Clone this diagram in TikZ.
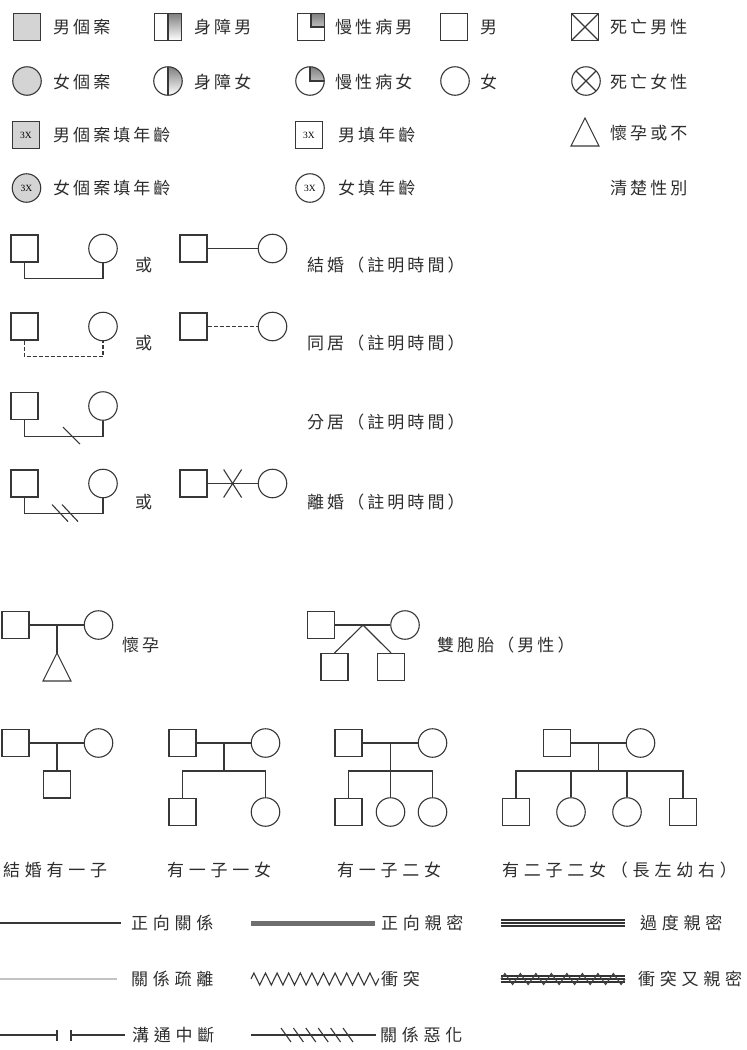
\documentclass[tikz,border=0pt]{standalone}
\usepackage{fontspec}
\newfontfamily\zh{Noto Sans CJK TC}[LetterSpace=18]
\newfontfamily\zhw{Noto Sans CJK TC}[LetterSpace=28]
\newfontfamily\tms{Liberation Serif}
\usetikzlibrary{calc,decorations.pathmorphing}
\definecolor{ink}{RGB}{55,55,55}
\definecolor{shade}{RGB}{212,212,212}
\definecolor{mid}{RGB}{110,110,110}
\definecolor{pale}{RGB}{195,195,195}
\definecolor{txt}{RGB}{45,45,45}
\tikzset{
  tie/.style={draw=ink,line width=1.1pt},
  coh/.style={dash pattern=on 4pt off 2pt},
  sym/.style={tie,fill=white,inner sep=0pt,minimum size=27pt,
    font=\tms\fontsize{9.5}{9.5}\selectfont},
  male/.style={sym,rectangle},
  female/.style={sym,circle,minimum size=28.5pt},
  index/.style={fill=shade},
  disab/.style={path picture={
    \fill[shade] (path picture bounding box.south) rectangle (path picture bounding box.north east);
    \draw[tie] (path picture bounding box.south) -- (path picture bounding box.north);}},
  chron/.style={path picture={
    \fill[shade] (path picture bounding box.center) rectangle (path picture bounding box.north east);
    \draw[tie] (path picture bounding box.north) -- (path picture bounding box.center) -- (path picture bounding box.east);}},
  dead/.style={path picture={
    \draw[tie] (path picture bounding box.north west) -- (path picture bounding box.south east)
      (path picture bounding box.north east) -- (path picture bounding box.south west);}},
  lbl/.style={anchor=west,inner sep=0pt,text=txt,font=\zh\fontsize{17}{17}\selectfont},
  lblw/.style={lbl,font=\zhw\fontsize{17}{17}\selectfont},
  % pictograms
  pics/fetus/.style={code={
    \draw[tie] (-14,14) -- (0,-14) -- (14,14) -- cycle;
    \coordinate (-top) at (0,-14);
  }},
}
\begin{document}
\begin{tikzpicture}[x=1pt,y=-1pt]
\path[use as bounding box] (0,0) rectangle (747,1050);
% symbols
\node[male,index] (ma) at (27,27) {};        \node[lbl] (ma-t) at (53,27) {男個案};
\node[male,disab] (mb) at (168,27) {};       \node[lbl] (mb-t) at (194,27) {身障男};
\node[male,chron] (mc) at (311,27) {};       \node[lbl] (mc-t) at (335,27) {慢性病男};
\node[male] (md) at (454,27) {};             \node[lbl] (md-t) at (480,27) {男};
\node[male,dead] (me) at (585,27) {};        \node[lbl] (me-t) at (610,27) {死亡男性};
\node[female,index] (fa) at (27,81) {};      \node[lbl] (fa-t) at (53,82) {女個案};
\node[female,disab] (fb) at (168,81) {};     \node[lbl] (fb-t) at (194,82) {身障女};
\node[female,chron] (fc) at (310,81) {};     \node[lbl] (fc-t) at (335,82) {慢性病女};
\node[female] (fd) at (455,81) {};           \node[lbl] (fd-t) at (480,82) {女};
\node[female,dead] (fe) at (586,81) {};      \node[lbl] (fe-t) at (610,82) {死亡女性};
\node[male,index] (mx) at (26,135) {3X};     \node[lbl] (mx-t) at (53,135) {男個案填年齡};
\node[male] (my) at (309,135) {3X};          \node[lbl] (my-t) at (338,135) {男填年齡};
\pic (u) at (585,132) {fetus};               \node[lbl] (u-t) at (610,133) {懷孕或不};
\node[female,index] (fx) at (26.5,188) {3X}; \node[lbl] (fx-t) at (53,188) {女個案填年齡};
\node[female] (fy) at (310,188) {3X};        \node[lbl] (fy-t) at (338,188) {女填年齡};
\node[lbl] (u-t2) at (610,188) {清楚性別};

% couples
\node[male] (m1) at (24.5,248.5) {};  \node[female] (f1) at (103,248.5) {};
\draw[tie] (m1.south) -- ++(0,16) -| (f1.south);
\node[lbl] (or1) at (135,265) {或};
\node[male] (m2) at (193.5,248.5) {}; \node[female] (f2) at (272.5,248.5) {};
\draw[tie] (m2) -- (f2);
\node[lbl] (c1-t) at (307,265) {結婚（註明時間）};

\node[male] (m3) at (24.5,326.5) {};  \node[female] (f3) at (103,326.5) {};
\draw[tie,coh] (m3.south) -- ++(0,16) -| (f3.south);
\node[lbl] (or2) at (135,343) {或};
\node[male] (m4) at (193.5,326.5) {}; \node[female] (f4) at (272.5,326.5) {};
\draw[tie,coh] (m4) -- (f4);
\node[lbl] (c2-t) at (307,343) {同居（註明時間）};

\node[male] (m5) at (24.5,406) {};    \node[female] (f5) at (103,406) {};
\draw[tie] (m5.south) -- ++(0,16) coordinate (k5) -| (f5.south);
\draw[tie] (k5) ++(38.5,-9) -- ++(17,17);
\node[lbl] (c3-t) at (307,422) {分居（註明時間）};

\node[male] (m7) at (24.5,483.5) {};  \node[female] (f7) at (103,483.5) {};
\draw[tie] (m7.south) -- ++(0,16) coordinate (k7) -| (f7.south);
\draw[tie] (k7) ++(27.5,-9) -- ++(16,17) ++(-6,-17) -- ++(16,17);
\node[lbl] (or3) at (135,502) {或};
\node[male] (m8) at (193.5,483.5) {}; \node[female] (f8) at (272.5,483.5) {};
\draw[tie] (m8) -- (f8);
\coordinate (x8) at ($(m8.east)!0.5!(f8.west)$);
\draw[tie] ($(x8)+(-9,-14)$) -- ($(x8)+(9,14)$) ($(x8)+(9,-14)$) -- ($(x8)+(-9,14)$);
\node[lbl] (c4-t) at (307,502) {離婚（註明時間）};

% pregnancy and twins
\node[male] (pm) at (15.5,625) {};  \node[female] (pf) at (98.5,625) {};
\draw[tie] (pm) -- (pf);
\pic (ft) at (57,667) {fetus};
\draw[tie] (ft-top |- pm) -- (ft-top);
\node[lbl] (pm-t) at (122,645) {懷孕};

\node[male] (tm) at (321,625) {};   \node[female] (tf) at (405,625) {};
\draw[tie] (tm) -- (tf);
\coordinate (tw) at ($(tm)!0.5!(tf)$);
\node[male] (t1) at (334.5,667) {}; \node[male] (t2) at (391,667) {};
\draw[tie] (t1.north) -- (tw) -- (t2.north);
\node[lbl] (tm-t) at (437,645) {雙胞胎（男性）};

% families
\node[male] (p1m) at (15.5,743) {};  \node[female] (p1f) at (98.5,743) {};
\draw[tie] (p1m) -- (p1f);
\node[male] (p1a) at (57,784.5) {};
\draw[tie] (p1a.north |- p1m) -- (p1a.north);
\node[lblw] (p1-t) at (3,870) {結婚有一子};

\node[male] (p2m) at (182.5,743) {}; \node[female] (p2f) at (265.5,743) {};
\draw[tie] (p2m) -- (p2f);
\coordinate (s2) at ($(p2m)!0.5!(p2f)+(0,28)$);
\draw[tie] ($(p2m)!0.5!(p2f)$) -- (s2);
\node[male] (p2a) at (182.5,812) {}; \node[female] (p2b) at (265.5,812) {};
\draw[tie] (p2a.north) |- (s2) -| (p2b.north);
\node[lblw] (p2-t) at (167,870) {有一子一女};

\node[male] (p3m) at (348.5,743) {}; \node[female] (p3f) at (432.5,743) {};
\draw[tie] (p3m) -- (p3f);
\coordinate (s3) at ($(p3m)!0.5!(p3f)+(0,28)$);
\draw[tie] ($(p3m)!0.5!(p3f)$) -- (s3);
\node[male] (p3a) at (348.5,812) {}; \node[female] (p3b) at (390.5,812) {};
\node[female] (p3c) at (432.5,812) {};
\draw[tie] (p3a.north) |- (s3) -| (p3c.north);
\draw[tie] (p3b.north) -- (p3b.north |- s3);
\node[lblw] (p3-t) at (337,870) {有一子二女};

\node[male] (p4m) at (557,743) {};   \node[female] (p4f) at (640.5,743) {};
\draw[tie] (p4m) -- (p4f);
\coordinate (s4) at ($(p4m)!0.5!(p4f)+(0,28)$);
\draw[tie] ($(p4m)!0.5!(p4f)$) -- (s4);
\node[male] (p4a) at (516,812) {};   \node[female] (p4b) at (571,812) {};
\node[female] (p4c) at (627,812) {}; \node[male] (p4d) at (683,812) {};
\draw[tie] (p4a.north) |- (s4) -| (p4d.north);
\foreach \c in {p4b,p4c} \draw[tie] (\c.north) -- (\c.north |- s4);
\node[lblw] (p4-t) at (502,870) {有二子二女（長左幼右）};

% relationship lines
\node[lblw] (r1) at (131,923) {正向關係};  \coordinate (r1s) at (0,923);
\draw[tie,shorten >=10pt] (r1s) -- (r1);
\node[lblw] (r2) at (381,923) {正向親密};  \coordinate (r2s) at (251,923);
\draw[mid,line width=5pt,shorten >=6pt] (r2s) -- (r2);
\node[lblw] (r3) at (640,923) {過度親密};  \coordinate (r3s) at (501,923);
\foreach \d in {-3.4,0,3.4}
  \draw[black!80,line width=2.1pt] ($(r3s)+(0,\d)$) -- ($(r3.west)+(-15,\d)$);

\node[lblw] (r4) at (131,979) {關係疏離};  \coordinate (r4s) at (0,979);
\draw[pale,line width=2.5pt,shorten >=14pt] (r4s) -- (r4);
\node[lblw] (r5) at (381,979) {衝突};      \coordinate (r5s) at (251,979);
\draw[tie,decorate,decoration={zigzag,amplitude=6pt,segment length=11.6pt}] (r5s) -- ($(r5.west)+(-2,0)$);
\node[lblw] (r6) at (638,979) {衝突又親密}; \coordinate (r6s) at (501,979);
\foreach \d in {-3.4,0,3.4}
  \draw[black!80,line width=1.9pt] ($(r6s)+(0,\d)$) -- ($(r6.west)+(-13,\d)$);
\draw[black!75,line width=1.1pt,decorate,decoration={zigzag,amplitude=5.5pt,segment length=15.5pt}] (r6s) -- ($(r6.west)+(-13,0)$);

\node[lblw] (r7) at (132,1035) {溝通中斷};  \coordinate (r7s) at (0,1035);
\draw[tie] (r7s) -- ++(57,0) ++(0,-5.5) -- ++(0,11) ++(14,0) -- ++(0,-11) ++(0,5.5) -- ++(54,0);
\node[lblw] (r8) at (380,1035) {關係惡化};  \coordinate (r8s) at (251,1035);
\draw[tie,shorten >=4pt] (r8s) -- (r8);
\foreach \i in {0,...,5} \draw[tie] ($(r8s)+(30+\i*12.4,-7)$) -- ++(10,14);
\end{tikzpicture}
\end{document}
